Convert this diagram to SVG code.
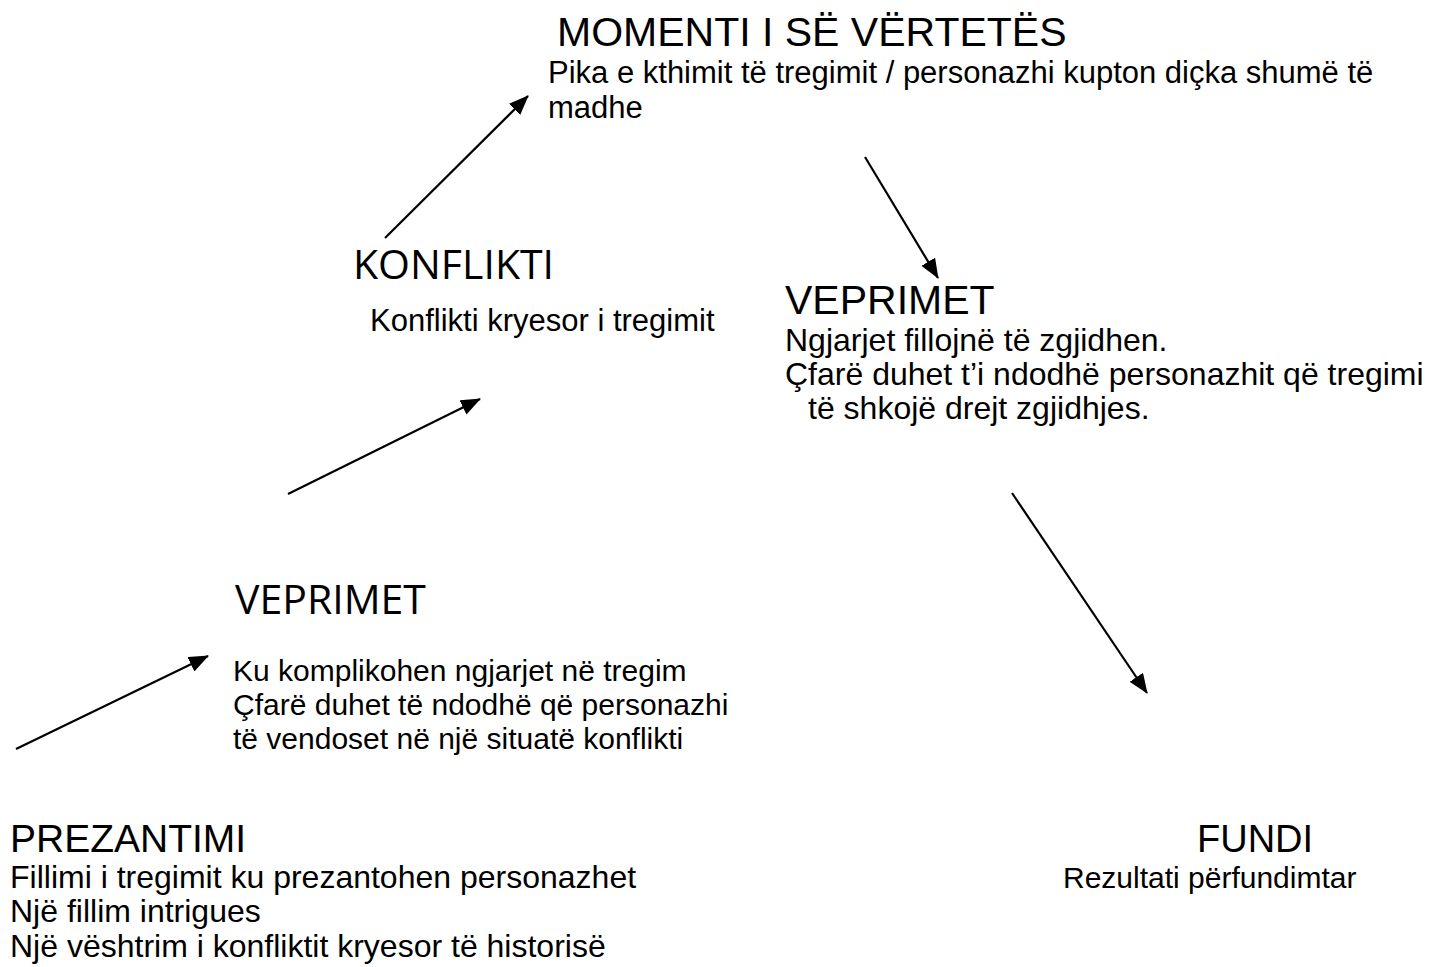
<svg xmlns="http://www.w3.org/2000/svg" width="1443" height="967" viewBox="0 0 1443 967">
<style>
.h{font-family:"Liberation Sans",Arial,sans-serif;font-size:41px;fill:#000}
.h2{font-family:"Open Sans","DejaVu Sans",sans-serif;font-size:41px;fill:#000}
.b{font-family:"Liberation Sans",Arial,sans-serif;font-size:31px;fill:#000}
.b32{font-size:32px}
.b30{font-size:30px}
.c{stroke:#000;stroke-width:2.2;fill:none;marker-end:url(#ah)}
</style>
<defs>
<marker id="ah" markerUnits="userSpaceOnUse" markerWidth="20" markerHeight="16" viewBox="0 0 20 16" refX="19" refY="8" orient="auto">
<path d="M0,0 L20,8 L0,16 Z" fill="#000"/>
</marker>
</defs>
<rect width="1443" height="967" fill="#fff"/>
<g id="connectors">
<line class="c" x1="16" y1="749" x2="208" y2="656"/>
<line class="c" x1="288" y1="494" x2="480" y2="399"/>
<line class="c" x1="385" y1="238" x2="528" y2="96"/>
<line class="c" x1="865" y1="157" x2="938" y2="278"/>
<line class="c" x1="1012" y1="493" x2="1147" y2="693"/>
</g>
<g id="moment">
<text class="h" x="557" y="46">MOMENTI I SË VËRTETËS</text>
<text class="b" x="548" y="83">Pika e kthimit të tregimit / personazhi kupton diçka shumë të</text>
<text class="b" x="548" y="118">madhe</text>
</g>
<g id="konflikti">
<text class="h2" x="353" y="279">KONFLIKTI</text>
<text class="b" x="370" y="331">Konflikti kryesor i tregimit</text>
</g>
<g id="veprimet-right">
<text class="h" x="785" y="314">VEPRIMET</text>
<text class="b b32" x="785" y="351">Ngjarjet fillojnë të zgjidhen.</text>
<text class="b b32" x="785" y="385">Çfarë duhet t’i ndodhë personazhit që tregimi</text>
<text class="b b32" x="808" y="419">të shkojë drejt zgjidhjes.</text>
</g>
<g id="veprimet-left">
<text class="h2" x="235" y="614">VEPRIMET</text>
<text class="b b30" x="233" y="681">Ku komplikohen ngjarjet në tregim</text>
<text class="b b30" x="233" y="715">Çfarë duhet të ndodhë që personazhi</text>
<text class="b b30" x="233" y="749">të vendoset në një situatë konflikti</text>
</g>
<g id="prezantimi">
<text class="h" style="font-size:39px" x="10" y="852">PREZANTIMI</text>
<text class="b b32" x="10" y="888">Fillimi i tregimit ku prezantohen personazhet</text>
<text class="b b32" x="10" y="922">Një fillim intrigues</text>
<text class="b b32" x="10" y="957">Një vështrim i konfliktit kryesor të historisë</text>
</g>
<g id="fundi">
<text class="h" style="font-size:38px" x="1197" y="852">FUNDI</text>
<text class="b b30" x="1063" y="888">Rezultati përfundimtar</text>
</g>
</svg>
